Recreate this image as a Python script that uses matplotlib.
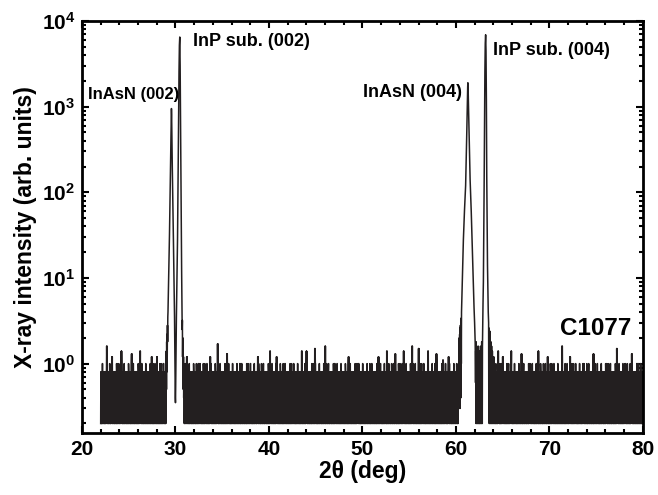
import numpy as np
import matplotlib
matplotlib.use("Agg")
import matplotlib.pyplot as plt
from matplotlib.ticker import FixedLocator, LogLocator, NullFormatter, MultipleLocator

plt.rcParams['font.family'] = ['Liberation Sans', 'DejaVu Sans']
plt.rcParams['font.weight'] = 'bold'
plt.rcParams['mathtext.fontset'] = 'custom'
plt.rcParams['mathtext.rm'] = 'Liberation Sans:bold'
plt.rcParams['mathtext.bf'] = 'Liberation Sans:bold'

# 背景ノイズのレベル (0.2 counts 単位で読み取り)
noise_pattern = [1, 4, 2, 4, 1, 3, 4, 1, 2, 5, 5, 1, 4, 2, 1, 4, 3, 2, 4, 1,
                 4, 1, 3, 4, 2, 1, 4, 4, 1, 3, 2, 4, 1, 5, 4, 1, 2, 4, 3, 1,
                 4, 2, 4, 1, 3, 1, 4, 2, 5, 4, 1, 4, 1, 2, 4, 3, 1, 4, 5, 5,
                 1, 3, 4, 2, 1, 4, 1, 3, 4, 2, 4, 1, 2, 4, 1, 3, 4, 1, 4, 2,
                 3, 1, 4, 2, 1, 5, 4, 1, 3, 4, 2, 1, 4, 5, 1, 4, 2, 3, 4, 1,
                 2, 4, 1, 3, 5, 5, 2, 1, 4, 3, 1, 4, 2, 4, 1, 3]

# ノイズ上の突出点 (2θ, 強度)
spike_pos = [22.64, 23.2, 24.2, 25.3, 26.2, 27.45, 28.0, 28.7,
             31.2, 32.6, 33.7, 34.5, 35.5, 36.9, 38.0, 38.8, 40.1, 40.8,
             41.7, 43.5, 44.0, 44.9, 46.0, 47.0, 48.5, 49.5, 51.7, 52.6,
             53.5, 54.4, 55.3, 56.0, 57.0, 57.9, 58.6, 59.2,
             64.5, 65.0, 65.9, 67.0, 67.9, 68.8, 69.8, 71.35, 72.2, 73.6,
             74.7, 76.1, 77.2, 78.1, 78.8]
spike_val = [1.6, 1.2, 1.4, 1.3, 1.4, 1.2, 1.2, 1.0,
             1.2, 1.0, 1.2, 1.7, 1.3, 1.0, 1.0, 1.2, 1.4, 1.2,
             1.0, 1.4, 1.4, 1.5, 1.6, 1.0, 1.2, 1.0, 1.2, 1.4,
             1.3, 1.4, 1.6, 1.5, 1.4, 1.3, 1.1, 1.2,
             1.4, 1.2, 1.4, 1.3, 1.0, 1.4, 1.2, 1.6, 1.2, 1.0,
             1.3, 1.0, 1.5, 1.0, 1.3]

# InAsN (002) / InP (002) ピーク付近
p1_x = [29.00, 29.02, 29.04, 29.06, 29.08, 29.10, 29.12, 29.14, 29.16, 29.18,
        29.20, 29.24, 29.28, 29.32, 29.36, 29.40, 29.44, 29.48, 29.52, 29.55,
        29.57, 29.59, 29.62, 29.66, 29.70, 29.74, 29.78, 29.82, 29.86, 29.90,
        29.94, 29.98, 30.00, 30.02, 30.06, 30.10, 30.14, 30.18, 30.22, 30.26,
        30.30, 30.34, 30.38, 30.42, 30.46, 30.50, 30.54, 30.58, 30.62, 30.66,
        30.70, 30.72, 30.74, 30.76, 30.78, 30.80, 30.82, 30.84, 30.86]
p1_y = [0.6, 1.4, 0.5, 1.8, 0.8, 2.2, 1.2, 2.8, 1.8, 3.5,
        4.0, 6.5, 10, 18, 32, 60, 115, 220, 450, 800,
        950, 800, 420, 200, 110, 55, 28, 14, 8, 3.5,
        1.2, 0.4, 0.35, 0.5, 1.5, 3.5, 7, 13, 28, 80,
        260, 900, 2600, 5200, 6500, 3000, 700, 150, 40, 12,
        5, 2.5, 3.2, 1.2, 2.0, 0.7, 1.5, 0.5, 1.2]

# InAsN (004) / InP (004) ピーク付近
p2_x = [60.30, 60.32, 60.34, 60.36, 60.38, 60.40, 60.42, 60.44, 60.46, 60.48,
        60.50, 60.52, 60.54, 60.56, 60.58, 60.60, 60.64, 60.68, 60.74, 60.80,
        60.86, 60.92, 60.98, 61.04, 61.10, 61.16, 61.22, 61.26, 61.28, 61.30,
        61.34, 61.40, 61.46, 61.52, 61.58, 61.64, 61.70, 61.76, 61.82, 61.88,
        61.94, 62.00, 62.06, 62.10, 62.12, 62.14, 62.16, 62.18, 62.20, 62.22,
        62.24, 62.26, 62.28, 62.30, 62.32, 62.34, 62.36, 62.38, 62.40, 62.42,
        62.44, 62.46, 62.48, 62.50, 62.52, 62.54, 62.56, 62.58, 62.60, 62.62,
        62.64, 62.66, 62.68, 62.70, 62.72, 62.74, 62.76, 62.78, 62.80, 62.82,
        62.84, 62.86, 62.90, 62.94, 62.98, 63.02, 63.06, 63.10, 63.14, 63.18,
        63.22, 63.26, 63.30, 63.34, 63.38, 63.42, 63.46, 63.50, 63.52, 63.54,
        63.56, 63.58, 63.60, 63.62, 63.64, 63.66, 63.68, 63.70, 63.72, 63.74,
        63.76, 63.78, 63.80, 63.82, 63.84, 63.86, 63.88, 63.90, 63.92, 63.94,
        63.96, 63.98, 64.00, 64.02, 64.04, 64.06, 64.08, 64.10, 64.12, 64.14,
        64.16, 64.18, 64.20]
p2_y = [0.3, 1.6, 0.4, 2.0, 0.3, 2.2, 0.5, 2.6, 0.3, 2.8,
        0.6, 3.0, 0.4, 3.4, 1.0, 4.0, 6, 10, 17, 28,
        42, 62, 85, 120, 230, 480, 1100, 1700, 1900, 1750,
        1100, 500, 250, 140, 95, 60, 35, 20, 12, 7,
        4.5, 3.0, 1.8, 0.6, 1.4, 0.2, 1.8, 0.3, 1.2, 0.2,
        1.6, 0.4, 1.0, 0.2, 1.4, 0.3, 0.8, 0.2, 1.6, 0.4,
        1.2, 0.2, 1.0, 0.2, 1.4, 0.4, 0.8, 0.2, 1.2, 0.3,
        1.6, 0.2, 1.0, 0.4, 1.4, 0.2, 1.8, 0.3, 1.2, 0.2,
        1.6, 2.5, 5, 9, 30, 120, 600, 2500, 5500, 6900,
        4500, 1200, 150, 40, 14, 7, 4.0, 3.0, 0.3, 2.6,
        0.2, 2.2, 0.4, 2.4, 0.2, 2.0, 0.3, 1.6, 0.2, 1.8,
        0.4, 1.4, 0.2, 1.6, 0.3, 1.2, 0.2, 1.4, 0.4, 1.0,
        0.2, 1.2, 0.3, 0.8, 0.2, 1.2, 0.4, 1.0, 0.2, 0.8,
        0.3, 1.0, 0.2]

# ラベル
peak_labels = ["InAsN (002)", "InP sub. (002)", "InAsN (004)", "InP sub. (004)"]
sample_name = "C1077"

# 走査点 (0.02 deg ステップ)
tt = np.arange(2200, 8001, 2) / 100.0
idx = np.arange(len(tt)) % len(noise_pattern)
noise = np.array(noise_pattern, dtype=float)[idx] * 0.2
for p, v in zip(spike_pos, spike_val):
    i = np.argmin(np.abs(tt - p))
    noise[i] = v
    noise[i + 2] = v

m1 = tt < 29.0
m2 = (tt > 30.86) & (tt < 60.30)
m3 = tt > 64.20
x = np.concatenate([tt[m1], p1_x, tt[m2], p2_x, tt[m3]])
y = np.concatenate([noise[m1], p1_y, noise[m2], p2_y, noise[m3]])

fig = plt.figure(figsize=(6.58, 4.95), dpi=100)
ax = fig.add_axes([0.1246, 0.1253, 0.8524, 0.8323])
ax.plot(x, y, color='#231f20', lw=1.1)
ax.set_yscale('log')
ax.set_xlim(20, 80)
ax.set_ylim(0.155, 1e4)

ax.xaxis.set_major_locator(MultipleLocator(10))
ax.xaxis.set_minor_locator(MultipleLocator(2))
ax.yaxis.set_major_locator(FixedLocator([1, 10, 100, 1000, 10000]))
ax.set_yticklabels([r'$\mathbf{10^{0}}$', r'$\mathbf{10^{1}}$', r'$\mathbf{10^{2}}$',
                    r'$\mathbf{10^{3}}$', r'$\mathbf{10^{4}}$'])
ax.yaxis.set_minor_locator(LogLocator(base=10, subs=np.arange(2, 10)))
ax.yaxis.set_minor_formatter(NullFormatter())
ax.tick_params(which='both', direction='in', top=True, right=True, width=1.5)
ax.tick_params(which='major', length=5, labelsize=15, pad=5)
ax.tick_params(which='minor', length=3)
for lab in ax.get_xticklabels():
    lab.set_fontweight('bold')
for s in ax.spines.values():
    s.set_linewidth(2.0)

ax.set_xlabel('2θ (deg)', fontsize=16.5, fontweight='bold', labelpad=1)
ax.set_ylabel('X-ray intensity (arb. units)', fontsize=16.5, fontweight='bold', labelpad=3)

ax.text(20.6, 1380, peak_labels[0], fontsize=12, fontweight='bold', va='center', ha='left')
ax.text(31.9, 5700, peak_labels[1], fontsize=13, fontweight='bold', va='center', ha='left')
ax.text(60.6, 1450, peak_labels[2], fontsize=13, fontweight='bold', va='center', ha='right')
ax.text(64.0, 4500, peak_labels[3], fontsize=13, fontweight='bold', va='center', ha='left')
ax.text(71.1, 2.55, sample_name, fontsize=17.5, fontweight='bold', va='center', ha='left')

fig.savefig('out.png', dpi=100)
